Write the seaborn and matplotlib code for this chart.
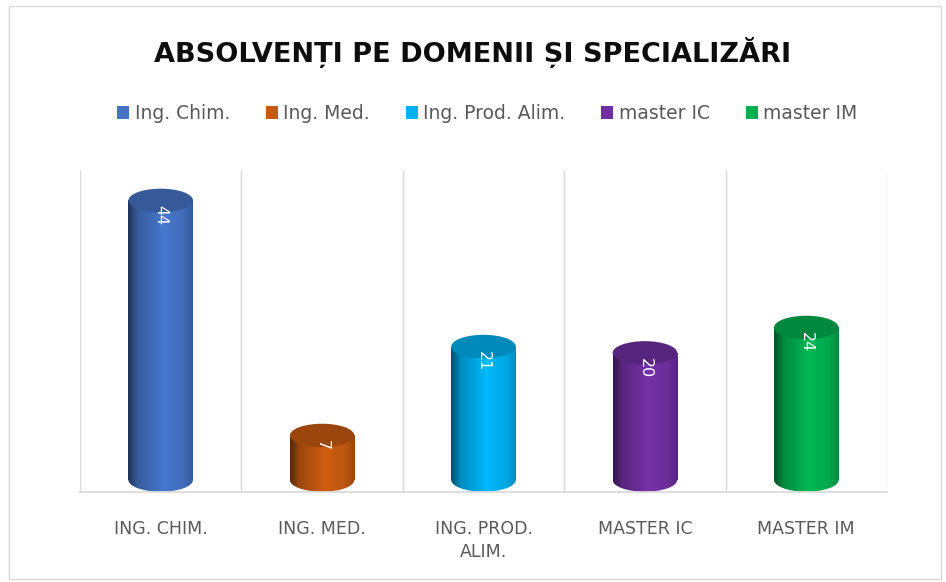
import numpy as np
import matplotlib
matplotlib.use("Agg")
import matplotlib.pyplot as plt
from matplotlib.patches import Ellipse, Rectangle, Patch
from matplotlib.colors import to_rgb
import seaborn as sns

# data
categories = ["Ing. Chim.", "Ing. Med.", "Ing. Prod. Alim.", "master IC", "master IM"]
tick_labels = ["ING. CHIM.", "ING. MED.", "ING. PROD.\nALIM.", "MASTER IC", "MASTER IM"]
values = [44, 7, 21, 20, 24]
colors = ["#4472C4", "#C55A11", "#00B0F0", "#7030A0", "#00B050"]

sns.set_theme(style="white")
plt.rcParams["font.family"] = ["DejaVu Sans"]

fig = plt.figure(figsize=(9.46, 5.82), dpi=100)
ax = fig.add_axes([0.0846, 0.1546, 0.853, 0.5534])

sns.barplot(x=categories, y=values, hue=categories, palette=colors,
            width=0.4, legend=False, ax=ax)

# ellipse height in data units (~24 px)
ell_h = 3.7


def shade(rgb, k):
    return tuple(min(1, c * k) for c in rgb)


for bar, col in zip(ax.patches, colors):
    x0 = bar.get_x()
    w = bar.get_width()
    h = bar.get_height()
    xc = x0 + w / 2
    bar.set_alpha(0)
    base = np.array(to_rgb(col))
    # horizontal gradient for the cylinder body
    t = np.linspace(0, 1, 200)
    k = np.interp(t, [0, 0.15, 0.55, 0.85, 1], [0.45, 0.8, 1.05, 0.95, 0.8])
    grad = np.clip(base[None, :] * k[:, None], 0, 1)[None, :, :]
    body = Rectangle((x0, 0), w, h, facecolor="none", edgecolor="none")
    bottom = Ellipse((xc, 0), w, ell_h, facecolor="none", edgecolor="none")
    ax.add_patch(body)
    ax.add_patch(bottom)
    for clip, (ya, yb) in [(body, (0, h)), (bottom, (-ell_h / 2, ell_h / 2))]:
        im = ax.imshow(grad, extent=(x0, x0 + w, ya, yb), aspect="auto",
                       interpolation="bilinear", zorder=2)
        im.set_clip_path(clip)
    top = Ellipse((xc, h), w, ell_h, facecolor=shade(base, 0.78),
                  edgecolor="none", zorder=3)
    ax.add_patch(top)
    ax.text(xc, h - ell_h * 0.2, str(int(h)), rotation=270,
            ha="center", va="top", color="white", fontsize=11.5, zorder=4)

ax.set_xlim(-0.5, len(categories) - 0.5)
ax.set_ylim(-1.9, 48.8)

# gridlines at category borders
ax.set_xticks(np.arange(-0.5, len(categories), 1), minor=True)
ax.grid(True, which="minor", axis="x", color="#d9d9d9", lw=1)
ax.tick_params(which="both", length=0)
ax.set_xticks(range(len(categories)))
ax.set_xticklabels(tick_labels, fontsize=12.5, color="#595959", linespacing=1.4)
ax.tick_params(axis="x", pad=20)
ax.set_yticks([])
ax.set_xlabel("")
ax.set_ylabel("")
for s in ["top", "right", "left"]:
    ax.spines[s].set_visible(False)
ax.spines["bottom"].set_color("#d9d9d9")

fig.text(0.5, 0.91, "ABSOLVENȚI PE DOMENII ȘI SPECIALIZĂRI", ha="center",
         va="center", fontsize=19.5, fontweight="bold", color="#0d0d0d")

handles = [Patch(facecolor=c, edgecolor="none") for c in colors]
fig.legend(handles, categories, loc="center", bbox_to_anchor=(0.515, 0.805),
           ncol=5, frameon=False, fontsize=13.5, handlelength=0.65,
           handleheight=0.65, handletextpad=0.3, columnspacing=1.9,
           labelcolor="#595959")

fig.patches.append(Rectangle((0.01, 0.005), 0.985, 0.985, transform=fig.transFigure,
                             fill=False, edgecolor="#d9d9d9", lw=1))

fig.savefig("out.png", dpi=100)
